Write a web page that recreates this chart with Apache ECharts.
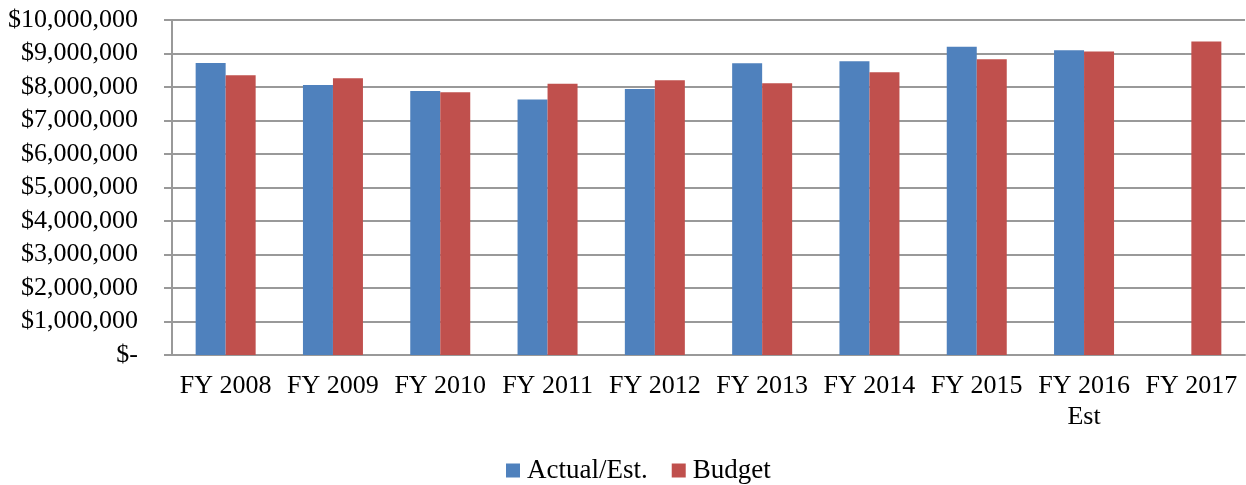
<!DOCTYPE html>
<html lang="en">

<head>
    <meta charset="UTF-8">
    <title>Actual vs Budget</title>
    <script src="https://cdn.jsdelivr.net/npm/echarts@6/dist/echarts.min.js"></script>
    <style>
        body { margin: 0; background: #fff; }
    </style>
</head>

<body>
    <div id="main" style="width: 1246px;height:485px;"></div>
    <script>
        // data
        const years = ["FY 2008", "FY 2009", "FY 2010", "FY 2011", "FY 2012", "FY 2013", "FY 2014", "FY 2015", "FY 2016\nEst", "FY 2017"];
        const actual = [8715000, 8060000, 7880000, 7630000, 7940000, 8710000, 8770000, 9200000, 9100000, null];
        const budget = [8350000, 8260000, 7840000, 8100000, 8200000, 8110000, 8440000, 8830000, 9060000, 9360000];
        const yTicks = [0, 1000000, 2000000, 3000000, 4000000, 5000000, 6000000, 7000000, 8000000, 9000000, 10000000];

        const chart = echarts.init(document.getElementById('main'));
        const font = "'Liberation Serif', 'Times New Roman', serif";

        let option = {
            animation: false,
            textStyle: { fontFamily: font },
            grid: { left: 172, right: 1, top: 20, bottom: 130 },
            legend: {
                bottom: -4,
                left: 501,
                itemWidth: 14,
                itemHeight: 14,
                itemGap: 24,
                icon: 'rect',
                textStyle: { fontFamily: font, fontSize: 27, color: '#000', padding: [0, 0, 0, 2] },
                data: ['Actual/Est.', 'Budget']
            },
            xAxis: {
                type: 'category',
                data: years,
                axisLine: { lineStyle: { color: '#999', width: 2 } },
                axisTick: { length: 8, lineStyle: { color: '#999', width: 2 } },
                axisLabel: { fontFamily: font, fontSize: 26, color: '#000', margin: 16, lineHeight: 31, interval: 0 }
            },
            yAxis: {
                type: 'value',
                min: yTicks[0],
                max: yTicks[yTicks.length - 1],
                interval: 1000000,
                axisLine: { show: true, lineStyle: { color: '#999', width: 2 } },
                axisTick: { show: true, length: 8, lineStyle: { color: '#999', width: 2 } },
                splitLine: { lineStyle: { color: '#999', width: 2 } },
                axisLabel: {
                    fontFamily: font, fontSize: 26, color: '#000', margin: 34,
                    formatter: v => v === 0 ? '$-' : '$' + v.toLocaleString('en-US')
                }
            },
            series: [
                {
                    name: 'Actual/Est.',
                    type: 'bar',
                    data: actual,
                    barWidth: 30,
                    barGap: '0%',
                    itemStyle: { color: '#4F81BD' }
                },
                {
                    name: 'Budget',
                    type: 'bar',
                    data: budget,
                    barWidth: 30,
                    itemStyle: { color: '#C0504D' }
                }
            ]
        };

        chart.setOption(option);
    </script>
</body>

</html>
